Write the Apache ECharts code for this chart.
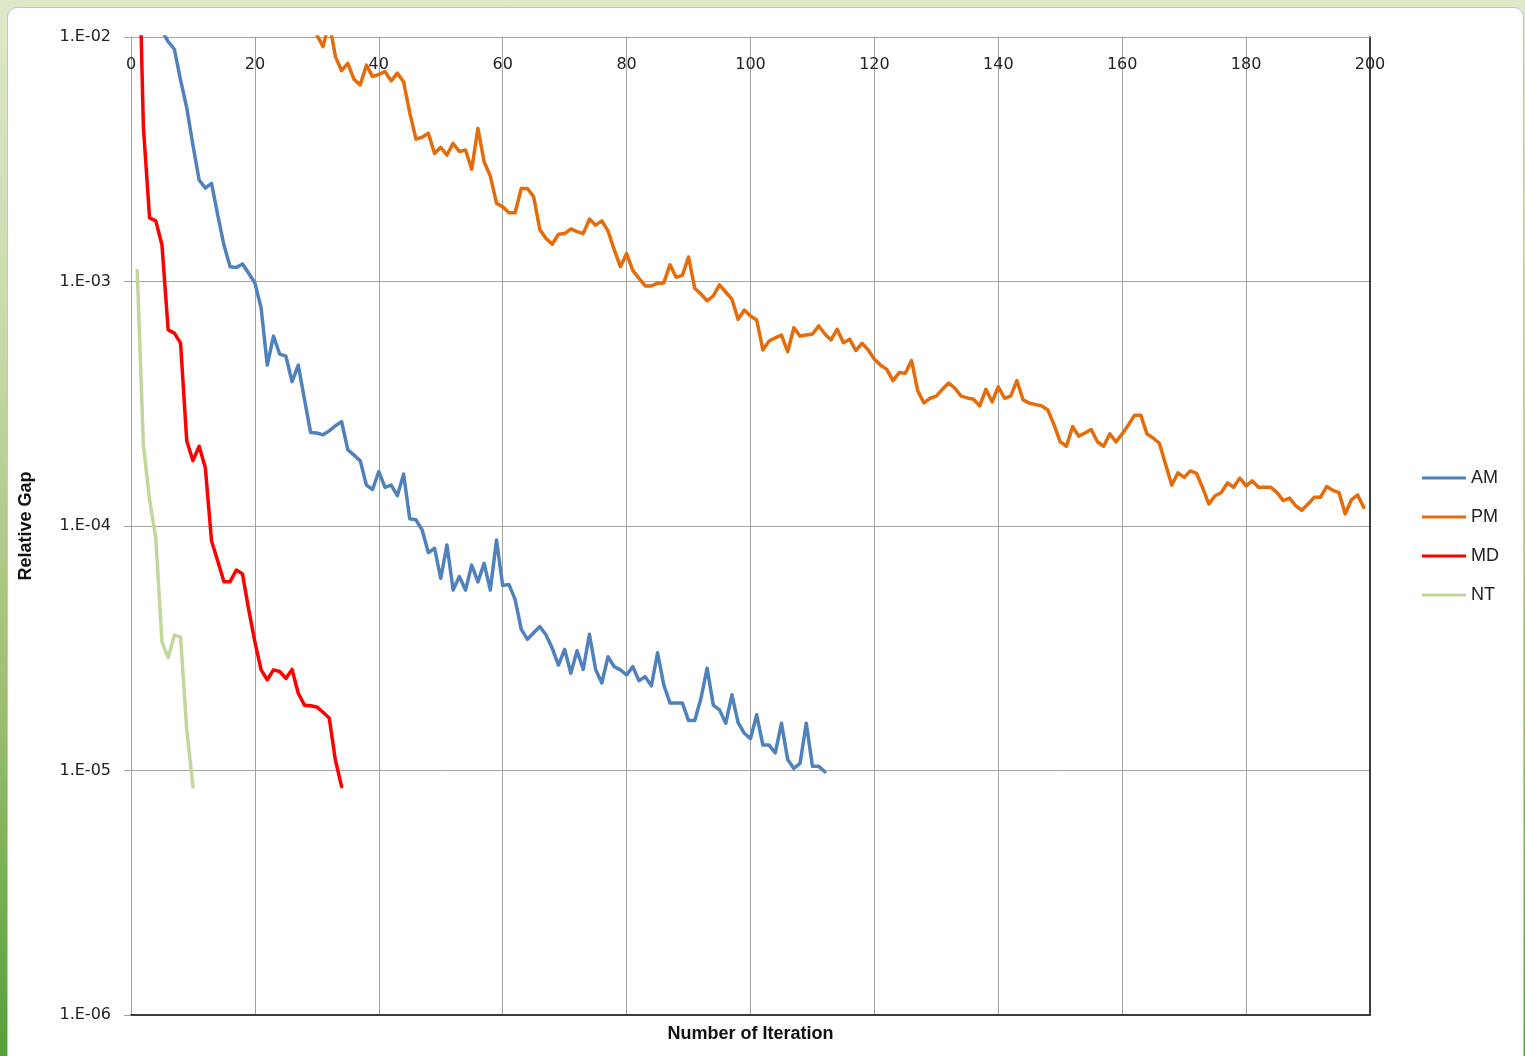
<!DOCTYPE html>
<html>
<head>
<meta charset="utf-8">
<script src="https://cdn.jsdelivr.net/npm/echarts@6/dist/echarts.min.js"></script>
<style>
html, body { margin:0; padding:0; width:1525px; height:1056px; overflow:hidden;
  background: linear-gradient(180deg, #dde8c9 0%, #c9dbab 30%, #9fc073 65%, #55a03a 100%); }
#card { position:absolute; left:7px; top:7px; width:1517px; height:1080px; background:#fff;
  border:1px solid #c2c8bc; border-radius:10px; box-sizing:border-box; }
#chart { position:absolute; left:0; top:0; width:1525px; height:1056px; }
</style>
</head>
<body>
<div id="card"></div>
<div id="chart"></div>
<script>
// ---- data ----
const xTickLabels = ['0','20','40','60','80','100','120','140','160','180','200'];
const yTickLabels = ['1.E-06','1.E-05','1.E-04','1.E-03','1.E-02'];
const seriesNames = ['AM','PM','MD','NT'];

// first iteration number of each series
const startAM = 5;
const startPM = 29;
const startMD = 1;
const startNT = 1;

const gapAM = [
  1.06e-2, 9.57e-3, 8.91e-3, 6.67e-3, 5.13e-3, 3.61e-3, 2.60e-3, 2.41e-3, 2.52e-3, 1.87e-3,
  1.41e-3, 1.15e-3, 1.14e-3, 1.18e-3, 1.08e-3, 9.86e-4, 7.80e-4, 4.55e-4, 5.98e-4, 5.05e-4,
  4.95e-4, 3.89e-4, 4.55e-4, 3.30e-4, 2.41e-4, 2.40e-4, 2.36e-4, 2.45e-4, 2.57e-4, 2.67e-4,
  2.05e-4, 1.95e-4, 1.85e-4, 1.47e-4, 1.41e-4, 1.67e-4, 1.44e-4, 1.47e-4, 1.33e-4, 1.63e-4,
  1.07e-4, 1.06e-4, 9.63e-5, 7.78e-5, 8.11e-5, 6.11e-5, 8.36e-5, 5.47e-5, 6.21e-5, 5.47e-5,
  6.92e-5, 5.91e-5, 7.03e-5, 5.47e-5, 8.77e-5, 5.71e-5, 5.77e-5, 5.01e-5, 3.78e-5, 3.44e-5,
  3.66e-5, 3.88e-5, 3.58e-5, 3.16e-5, 2.70e-5, 3.13e-5, 2.50e-5, 3.09e-5, 2.59e-5, 3.61e-5,
  2.59e-5, 2.28e-5, 2.92e-5, 2.66e-5, 2.58e-5, 2.46e-5, 2.66e-5, 2.33e-5, 2.42e-5, 2.22e-5,
  3.03e-5, 2.24e-5, 1.89e-5, 1.89e-5, 1.89e-5, 1.60e-5, 1.60e-5, 1.97e-5, 2.62e-5, 1.85e-5,
  1.77e-5, 1.56e-5, 2.04e-5, 1.57e-5, 1.42e-5, 1.35e-5, 1.69e-5, 1.27e-5, 1.27e-5, 1.18e-5,
  1.56e-5, 1.11e-5, 1.02e-5, 1.07e-5, 1.56e-5, 1.04e-5, 1.04e-5, 9.88e-6
];

const gapPM = [
  1.30e-2, 1.02e-2, 9.13e-3, 1.15e-2, 8.31e-3, 7.28e-3, 7.80e-3, 6.71e-3, 6.37e-3, 7.67e-3,
  6.89e-3, 7.04e-3, 7.21e-3, 6.62e-3, 7.11e-3, 6.56e-3, 4.89e-3, 3.82e-3, 3.89e-3, 4.04e-3,
  3.34e-3, 3.54e-3, 3.29e-3, 3.67e-3, 3.40e-3, 3.45e-3, 2.88e-3, 4.23e-3, 3.09e-3, 2.70e-3,
  2.09e-3, 2.02e-3, 1.91e-3, 1.91e-3, 2.40e-3, 2.40e-3, 2.22e-3, 1.63e-3, 1.50e-3, 1.42e-3,
  1.56e-3, 1.57e-3, 1.64e-3, 1.60e-3, 1.57e-3, 1.80e-3, 1.70e-3, 1.77e-3, 1.61e-3, 1.35e-3,
  1.15e-3, 1.30e-3, 1.11e-3, 1.03e-3, 9.59e-4, 9.59e-4, 9.84e-4, 9.87e-4, 1.17e-3, 1.04e-3,
  1.06e-3, 1.26e-3, 9.38e-4, 8.89e-4, 8.34e-4, 8.73e-4, 9.68e-4, 9.06e-4, 8.46e-4, 7.00e-4,
  7.64e-4, 7.22e-4, 6.96e-4, 5.25e-4, 5.71e-4, 5.88e-4, 6.04e-4, 5.16e-4, 6.47e-4, 5.98e-4,
  6.04e-4, 6.10e-4, 6.58e-4, 6.10e-4, 5.77e-4, 6.38e-4, 5.62e-4, 5.81e-4, 5.22e-4, 5.59e-4,
  5.25e-4, 4.81e-4, 4.55e-4, 4.37e-4, 3.93e-4, 4.24e-4, 4.21e-4, 4.75e-4, 3.57e-4, 3.19e-4,
  3.33e-4, 3.40e-4, 3.63e-4, 3.84e-4, 3.66e-4, 3.40e-4, 3.34e-4, 3.30e-4, 3.10e-4, 3.62e-4,
  3.22e-4, 3.71e-4, 3.33e-4, 3.40e-4, 3.93e-4, 3.28e-4, 3.18e-4, 3.14e-4, 3.10e-4, 2.98e-4,
  2.59e-4, 2.21e-4, 2.12e-4, 2.55e-4, 2.33e-4, 2.40e-4, 2.48e-4, 2.21e-4, 2.12e-4, 2.38e-4,
  2.21e-4, 2.38e-4, 2.59e-4, 2.84e-4, 2.84e-4, 2.38e-4, 2.29e-4, 2.18e-4, 1.79e-4, 1.47e-4,
  1.65e-4, 1.58e-4, 1.68e-4, 1.64e-4, 1.43e-4, 1.23e-4, 1.33e-4, 1.37e-4, 1.50e-4, 1.44e-4,
  1.57e-4, 1.46e-4, 1.53e-4, 1.44e-4, 1.44e-4, 1.44e-4, 1.37e-4, 1.27e-4, 1.30e-4, 1.21e-4,
  1.16e-4, 1.23e-4, 1.31e-4, 1.31e-4, 1.45e-4, 1.40e-4, 1.37e-4, 1.12e-4, 1.28e-4, 1.34e-4,
  1.19e-4
];

const gapMD = [
  4.70e-2, 4.28e-3, 1.82e-3, 1.77e-3, 1.41e-3, 6.34e-4, 6.15e-4, 5.60e-4, 2.23e-4, 1.85e-4,
  2.12e-4, 1.73e-4, 8.69e-5, 7.20e-5, 5.92e-5, 5.92e-5, 6.61e-5, 6.37e-5, 4.55e-5, 3.36e-5,
  2.58e-5, 2.35e-5, 2.58e-5, 2.54e-5, 2.38e-5, 2.59e-5, 2.07e-5, 1.85e-5, 1.84e-5, 1.82e-5,
  1.73e-5, 1.64e-5, 1.10e-5, 8.59e-6
];

const gapNT = [
  1.11e-3, 2.14e-4, 1.28e-4, 8.93e-5, 3.36e-5, 2.89e-5, 3.58e-5, 3.51e-5, 1.47e-5, 8.57e-6
];

const colorAM = '#4f81bd';
const colorPM = '#e46c0a';
const colorMD = '#ff0000';
const colorNT = '#c3d69b';

// ---- build chart ----
function pairs(start, arr) { return arr.map((v, k) => [start + k, v]); }

const gridColor = '#a3a3a3';
const darkLine = '#3c3c3c';
const labelFont = 'DejaVu Sans';
const titleFont = 'Liberation Sans';

function lineSeries(name, color, data) {
  return {
    name: name, type: 'line', data: data, symbol: 'none', showSymbol: false,
    clip: true, smooth: false,
    lineStyle: { color: color, width: 3.5, cap: 'round', join: 'round' },
    itemStyle: { color: color },
    emphasis: { disabled: true }
  };
}

const chart = echarts.init(document.getElementById('chart'), null, { renderer: 'canvas' });
const option = {
  animation: false,
  backgroundColor: 'transparent',
  grid: { left: 131, right: 155, top: 37, bottom: 41, containLabel: false },
  legend: {
    orient: 'vertical', left: 1422, top: 469, padding: 0,
    icon: 'rect', itemWidth: 44, itemHeight: 3, itemGap: 21,
    data: seriesNames,
    textStyle: { fontFamily: titleFont, fontSize: 18, color: '#222' }
  },
  xAxis: [
    {
      type: 'value', position: 'top', min: 0, max: 200, interval: 20,
      axisLine: { show: true, onZero: false, lineStyle: { color: gridColor, width: 1 } },
      axisTick: { show: false },
      axisLabel: {
        inside: true, margin: 20, fontFamily: labelFont, fontSize: 16, color: '#222',
        formatter: function (v) { return xTickLabels[Math.round(v / 20)]; }
      },
      splitLine: { show: true, lineStyle: { color: gridColor, width: 1 } }
    },
    {
      type: 'value', position: 'bottom', min: 0, max: 200, interval: 20,
      axisLine: { show: true, onZero: false, lineStyle: { color: darkLine, width: 2 } },
      axisTick: { show: false }, axisLabel: { show: false }, splitLine: { show: false },
      name: 'Number of Iteration', nameLocation: 'middle', nameGap: 10,
      nameTextStyle: { fontFamily: titleFont, fontWeight: 'bold', fontSize: 18, color: '#111', verticalAlign: 'top' }
    }
  ],
  yAxis: [
    {
      type: 'log', logBase: 10, min: 1e-6, max: 1e-2, splitNumber: 4, position: 'left',
      axisLine: { show: true, onZero: false, lineStyle: { color: gridColor, width: 1 } },
      axisTick: { show: true, length: 7, lineStyle: { color: gridColor } },
      axisLabel: {
        margin: 20, fontFamily: labelFont, fontSize: 16, color: '#222',
        formatter: function (v) { return yTickLabels[Math.round(Math.log10(v)) + 6]; }
      },
      splitLine: { show: true, lineStyle: { color: gridColor, width: 1 } },
      minorTick: { show: false }, minorSplitLine: { show: false },
      name: 'Relative Gap', nameLocation: 'middle', nameGap: 96, nameRotate: 90,
      nameTextStyle: { fontFamily: titleFont, fontWeight: 'bold', fontSize: 18, color: '#111' }
    },
    {
      type: 'log', logBase: 10, min: 1e-6, max: 1e-2, position: 'right',
      axisLine: { show: true, onZero: false, lineStyle: { color: darkLine, width: 2 } },
      axisTick: { show: false }, axisLabel: { show: false }, splitLine: { show: false }
    }
  ],
  series: [
    lineSeries('AM', colorAM, pairs(startAM, gapAM)),
    lineSeries('PM', colorPM, pairs(startPM, gapPM)),
    lineSeries('MD', colorMD, pairs(startMD, gapMD)),
    lineSeries('NT', colorNT, pairs(startNT, gapNT))
  ]
};
chart.setOption(option);
</script>
</body>
</html>
